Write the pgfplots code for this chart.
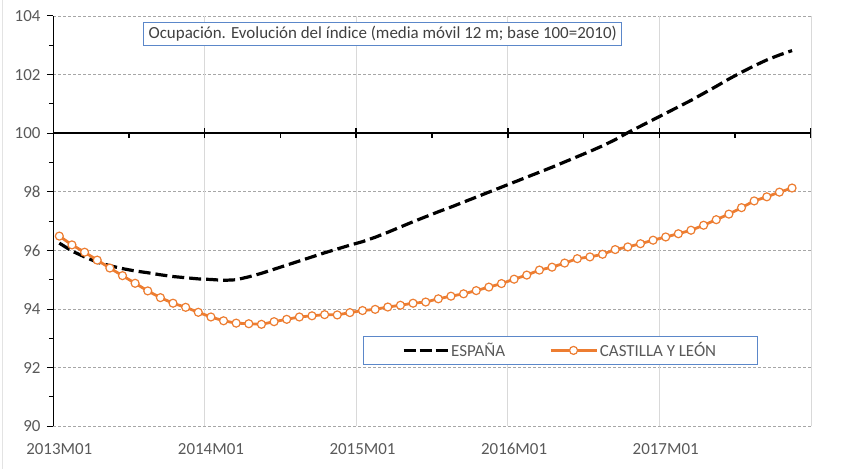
\documentclass[border=0pt]{standalone}
\usepackage{pgfplots}
\pgfplotsset{compat=1.18}
\usepackage{pgfplotstable}
\usepackage{fontspec}
\setmainfont{Carlito}
\definecolor{cylorange}{HTML}{ED7D31}
\definecolor{ticktext}{HTML}{595959}
\definecolor{titletext}{HTML}{404040}
\definecolor{boxblue}{HTML}{5B87C9}
\definecolor{vgrid}{HTML}{D9D9D9}
\definecolor{hgrid}{HTML}{A6A6A6}
\definecolor{frame}{HTML}{E3E3E3}

\pgfplotstableread{
idx esp cyl
0 96.25 96.49
1 95.98 96.19
2 95.78 95.94
3 95.60 95.67
4 95.48 95.40
5 95.38 95.14
6 95.30 94.88
7 95.24 94.62
8 95.17 94.39
9 95.11 94.20
10 95.07 94.06
11 95.03 93.89
12 95.01 93.73
13 94.98 93.60
14 95.00 93.52
15 95.10 93.50
16 95.22 93.48
17 95.36 93.57
18 95.50 93.65
19 95.64 93.73
20 95.78 93.77
21 95.92 93.81
22 96.05 93.80
23 96.18 93.88
24 96.30 93.95
25 96.45 93.99
26 96.62 94.07
27 96.80 94.13
28 96.98 94.20
29 97.15 94.24
30 97.32 94.35
31 97.48 94.44
32 97.65 94.52
33 97.82 94.63
34 97.99 94.75
35 98.16 94.87
36 98.33 95.02
37 98.50 95.16
38 98.67 95.33
39 98.84 95.43
40 99.02 95.57
41 99.20 95.72
42 99.38 95.78
43 99.57 95.87
44 99.78 96.03
45 100.02 96.12
46 100.24 96.23
47 100.46 96.35
48 100.68 96.46
49 100.90 96.57
50 101.12 96.69
51 101.36 96.86
52 101.60 97.05
53 101.85 97.24
54 102.08 97.46
55 102.30 97.69
56 102.50 97.83
57 102.67 97.99
58 102.82 98.13
}\datatable

\begin{document}
\begin{tikzpicture}
\path[use as bounding box] (-53bp,-42.7bp) rectangle (799bp,426.3bp);
\draw[frame, line width=1.2bp] (-50.5bp,-42.7bp) -- (-50.5bp,426.3bp);
\begin{axis}[
  at={(0,0)}, anchor=south west,
  scale only axis, width=758bp, height=410.3bp,
  xmin=-0.5, xmax=59.5, ymin=90, ymax=104,
  axis line style={draw=none},
  xtick={0,12,24,36,48},
  xticklabels={2013M01,2014M01,2015M01,2016M01,2017M01},
  xtick style={draw=none},
  extra x ticks={-0.5,11.5,23.5,35.5,47.5,59.5},
  extra x tick labels={},
  extra x tick style={grid=major, major grid style={vgrid, solid, line width=1bp}, tick style={draw=none}},
  ytick={90,92,...,104},
  minor ytick={91,93,...,103},
  ytick pos=left, xtick pos=bottom,
  tick align=outside,
  ytick style={black, line width=1bp},
  major tick length=6bp, minor tick length=4bp,
  ymajorgrids,
  major grid style={hgrid, dash pattern=on 3bp off 2bp, line width=0.8bp},
  /pgf/number format/assume math mode=true,
  tick label style={font=\fontsize{17}{20}\selectfont, text=ticktext},
  xticklabel style={anchor=center, yshift=-17bp},
  yticklabel style={anchor=east, xshift=-3bp},
  legend columns=2,
  legend style={at={(0.669,0.185)}, anchor=center, draw=boxblue, line width=1bp,
    font=\fontsize{17}{20}\selectfont, text=ticktext, inner xsep=39bp, inner ysep=4.5bp,
    /tikz/every even column/.append style={column sep=42bp}},
]
\draw[black, line width=1.2bp] (rel axis cs:0,0) -- (rel axis cs:0,1);
\draw[black, line width=2.4bp] (axis cs:-0.5,100) -- (axis cs:59.5,100);
\pgfplotsinvokeforeach{-0.5,11.5,23.5,35.5,47.5,59.5}{
  \draw[black, line width=1.6bp] (axis cs:#1,100) ++(0bp,-5bp) -- ++(0bp,10bp);
}
\pgfplotsinvokeforeach{5.5,17.5,29.5,41.5,53.5}{
  \draw[black, line width=1.6bp] (axis cs:#1,100) -- ++(0bp,-5bp);
}
\addplot[black, line width=3.2bp, dash pattern=on 12bp off 5bp,
  legend image code/.code={\draw[black, line width=3.2bp, dash pattern=on 12bp off 4bp] (0bp,0bp) -- (44bp,0bp);}]
  table[x=idx, y=esp] {\datatable};
\addlegendentry{ESPAÑA}
\addplot[cylorange, line width=2.8bp, mark=*, mark size=4bp,
  mark options={fill=white, draw=cylorange, line width=1.2bp},
  legend image code/.code={\draw[cylorange, line width=2.8bp] (0bp,0bp) -- (46bp,0bp);
    \draw[cylorange, fill=white, line width=1.2bp] (23bp,0bp) circle[radius=4bp];}]
  table[x=idx, y=cyl] {\datatable};
\addlegendentry{CASTILLA Y LEÓN}
\node[draw=boxblue, line width=1bp, fill=white, text=titletext, font=\fontsize{17}{20}\selectfont, inner xsep=5bp, inner ysep=4bp]
  at (rel axis cs:0.435,0.956) {Ocupación. Evolución del índice (media móvil 12 m; base 100=2010)};
\end{axis}
\end{tikzpicture}
\end{document}
